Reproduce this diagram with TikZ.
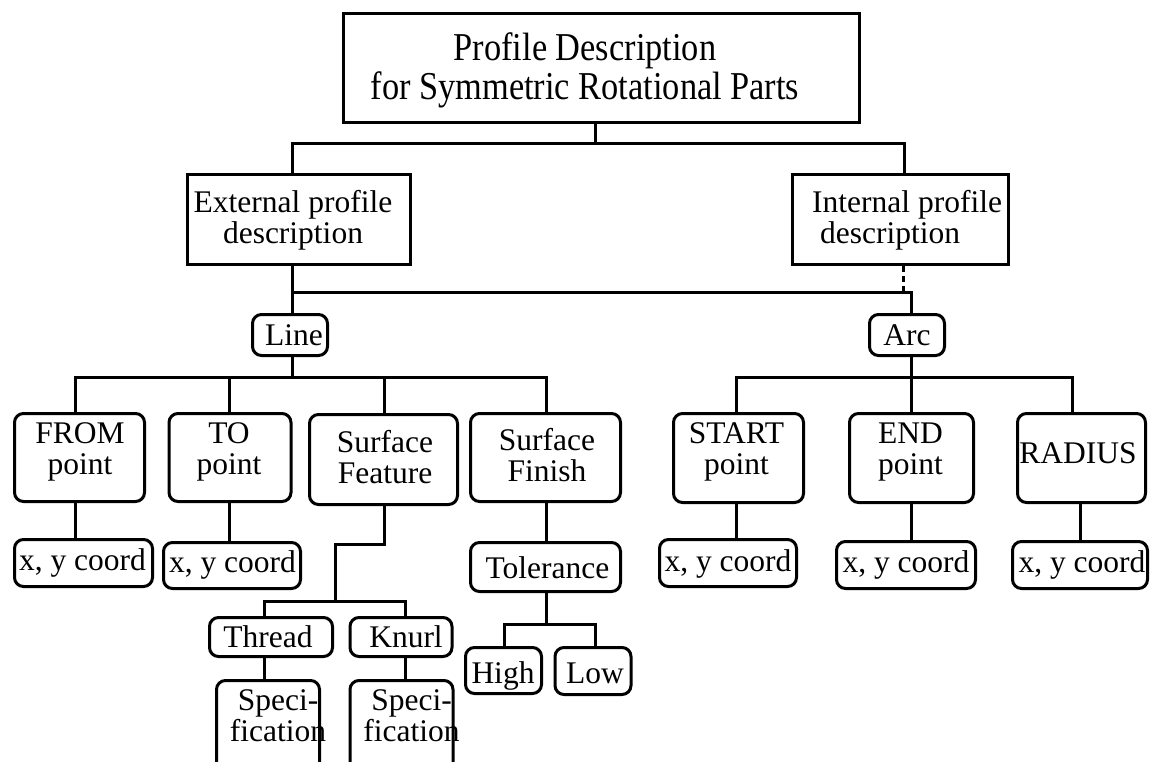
\documentclass[tikz,border=0pt]{standalone}
\usepackage{fontspec}
\setmainfont{Liberation Serif}
\newfontfamily\titlefont{Liberation Serif}[FakeStretch=0.87]
\begin{document}
\begin{tikzpicture}[x=1pt,y=-1pt,
  conn/.style={line width=3pt},
  sqbox/.style={draw,line width=3pt,inner sep=0pt},
  rbox/.style={draw,line width=3pt,rounded corners=9pt,inner sep=0pt},
  txt/.style={anchor=base,inner sep=0pt,font=\fontsize{31.5}{31.5}\selectfont},
  ttl/.style={anchor=base,inner sep=0pt,font=\titlefont\fontsize{39.5}{34}\selectfont},
]
\useasboundingbox (0,0) rectangle (1151,762);
\clip (0,0) rectangle (1151,762);

% ---- boxes ----
\node[sqbox,minimum width=516pt,minimum height=109pt] (title) at (601.5,68) {};
\node[sqbox,minimum width=223pt,minimum height=90pt] (ext) at (299,219.5) {};
\node[sqbox,minimum width=216pt,minimum height=90pt] (int) at (900.5,219.5) {};
\node[rbox,minimum width=75pt,minimum height=41pt] (line) at (290,335) {};
\node[rbox,minimum width=75pt,minimum height=41pt] (arc) at (907,335) {};

\node[rbox,minimum width=130pt,minimum height=88pt] (from) at (79.5,457.5) {};
\node[rbox,minimum width=122pt,minimum height=88pt] (to) at (230,457.5) {};
\node[rbox,minimum width=148pt,minimum height=90pt] (sfeat) at (383.5,459.5) {};
\node[rbox,minimum width=150pt,minimum height=88pt] (sfin) at (545.5,457.5) {};
\node[rbox,minimum width=130pt,minimum height=89pt] (start) at (738.5,458) {};
\node[rbox,minimum width=124pt,minimum height=89pt] (end) at (911.5,458) {};
\node[rbox,minimum width=128pt,minimum height=89pt] (radius) at (1081.5,458) {};

\node[rbox,minimum width=138pt,minimum height=47pt] (fromxy) at (83.5,563) {};
\node[rbox,minimum width=137pt,minimum height=46pt] (toxy) at (232,565.5) {};
\node[rbox,minimum width=150pt,minimum height=49pt] (tol) at (545.5,567) {};
\node[rbox,minimum width=137pt,minimum height=47pt] (startxy) at (728,563) {};
\node[rbox,minimum width=139pt,minimum height=47pt] (endxy) at (906,565) {};
\node[rbox,minimum width=135pt,minimum height=47pt] (radxy) at (1080,565) {};

\node[rbox,minimum width=123pt,minimum height=39pt] (thread) at (271,637) {};
\node[rbox,minimum width=102pt,minimum height=39pt] (knurl) at (401,637) {};
\node[rbox,minimum width=76pt,minimum height=46pt] (high) at (503.5,670.5) {};
\node[rbox,minimum width=76pt,minimum height=47pt] (low) at (593,671) {};
\node[rbox,minimum width=103pt,minimum height=92pt] (specA) at (268,726.5) {};
\node[rbox,minimum width=103pt,minimum height=92pt] (specB) at (401.5,726.5) {};

% ---- texts ----
\node[ttl] (titleT) at (585,61) {\begin{tabular}[t]{@{}c@{}}Profile Description\hspace{48pt}\\for Symmetric Rotational Parts\end{tabular}};
\node[txt] (extT) at (293,212) {\begin{tabular}[t]{@{}c@{}}External profile\\description\end{tabular}};
\node[txt,anchor=base west] (intT) at (812,212) {\begin{tabular}[t]{@{}l@{}}Internal profile\\\hspace{8pt}description\end{tabular}};
\node[txt] (lineT) at (294,345) {Line};
\node[txt] (arcT) at (907,345) {Arc};
\node[txt] (fromT) at (80,443) {\begin{tabular}[t]{@{}c@{}}FROM\\point\end{tabular}};
\node[txt] (toT) at (229,443) {\begin{tabular}[t]{@{}c@{}}TO\\point\end{tabular}};
\node[txt] (sfeatT) at (385,452) {\begin{tabular}[t]{@{}c@{}}Surface\\Feature\end{tabular}};
\node[txt] (sfinT) at (547,450) {\begin{tabular}[t]{@{}c@{}}Surface\\Finish\end{tabular}};
\node[txt] (startT) at (736.5,443) {\begin{tabular}[t]{@{}c@{}}START\\point\end{tabular}};
\node[txt] (endT) at (910.5,443) {\begin{tabular}[t]{@{}c@{}}END\\point\end{tabular}};
\node[txt] (radiusT) at (1078,463) {RADIUS};
\node[txt] (fromxyT) at (82.5,570) {x, y coord};
\node[txt] (toxyT) at (232.5,572) {x, y coord};
\node[txt] (tolT) at (547.5,578) {Tolerance};
\node[txt] (startxyT) at (728,571) {x, y coord};
\node[txt] (endxyT) at (906,572) {x, y coord};
\node[txt] (radxyT) at (1082,572) {x, y coord};
\node[txt] (threadT) at (268,647) {Thread};
\node[txt] (knurlT) at (406,647) {Knurl};
\node[txt] (highT) at (503,683) {High};
\node[txt] (lowT) at (595,683) {Low};
\node[txt] (specAT) at (278,710) {\begin{tabular}[t]{@{}c@{}}Speci-\\fication\end{tabular}};
\node[txt] (specBT) at (411.5,710) {\begin{tabular}[t]{@{}c@{}}Speci-\\fication\end{tabular}};

% ---- connectors ----
\coordinate (r) at (595,144);
\coordinate (rl) at (292,144);
\coordinate (rr) at (904,144);
\draw[conn] (title.south -| r) -- (r);
\draw[conn] (ext.north -| rl) -- (rl) -- (rr) -- (int.north -| rr);

\coordinate (e) at (292,292);
\coordinate (a) at (911,292);
\coordinate (d) at (903,292);
\draw[conn] (ext.south -| e) -- (line.north -| e);
\draw[conn] (e) -- (a) -- (arc.north -| a);
\draw[conn,dash pattern=on 6pt off 4pt] (int.south -| d) -- (d);

\coordinate (lb) at (292,377);
\coordinate (lb1) at (75,377);
\coordinate (lb2) at (229,377);
\coordinate (lb3) at (384,377);
\coordinate (lb4) at (546,377);
\draw[conn] (line.south -| lb) -- (lb);
\draw[conn] (from.north -| lb1) -- (lb1) -- (lb4) -- (sfin.north -| lb4);
\draw[conn] (to.north -| lb2) -- (lb2);
\draw[conn] (sfeat.north -| lb3) -- (lb3);

\coordinate (ab) at (911,377);
\coordinate (ab1) at (736,377);
\coordinate (ab3) at (1072.5,377);
\draw[conn] (arc.south -| ab) -- (ab);
\draw[conn] (start.north -| ab1) -- (ab1) -- (ab3) -- (radius.north -| ab3);
\draw[conn] (end.north -| ab) -- (ab);

\coordinate (radlink) at (1080,520);
\draw[conn] (from.south -| lb1) -- (fromxy.north -| lb1);
\draw[conn] (to.south -| lb2) -- (toxy.north -| lb2);
\draw[conn] (start.south -| ab1) -- (startxy.north -| ab1);
\draw[conn] (end.south -| ab) -- (endxy.north -| ab);
\draw[conn] (radius.south -| radlink) -- (radxy.north -| radlink);

\coordinate (f1) at (384,544);
\coordinate (f2) at (335,544);
\coordinate (f3) at (335,601);
\coordinate (f4) at (264,601);
\coordinate (f5) at (405,601);
\draw[conn] (sfeat.south -| f1) -- (f1) -- (f2) -- (f3);
\draw[conn] (thread.north -| f4) -- (f4) -- (f5) -- (knurl.north -| f5);
\draw[conn] (thread.south -| f4) -- (specA.north -| f4);
\draw[conn] (knurl.south -| f5) -- (specB.north -| f5);

\coordinate (t0) at (546,624);
\coordinate (t1) at (504,624);
\coordinate (t2) at (595,624);
\draw[conn] (sfin.south -| t0) -- (tol.north -| t0);
\draw[conn] (tol.south -| t0) -- (t0);
\draw[conn] (high.north -| t1) -- (t1) -- (t2) -- (low.north -| t2);
\end{tikzpicture}
\end{document}
